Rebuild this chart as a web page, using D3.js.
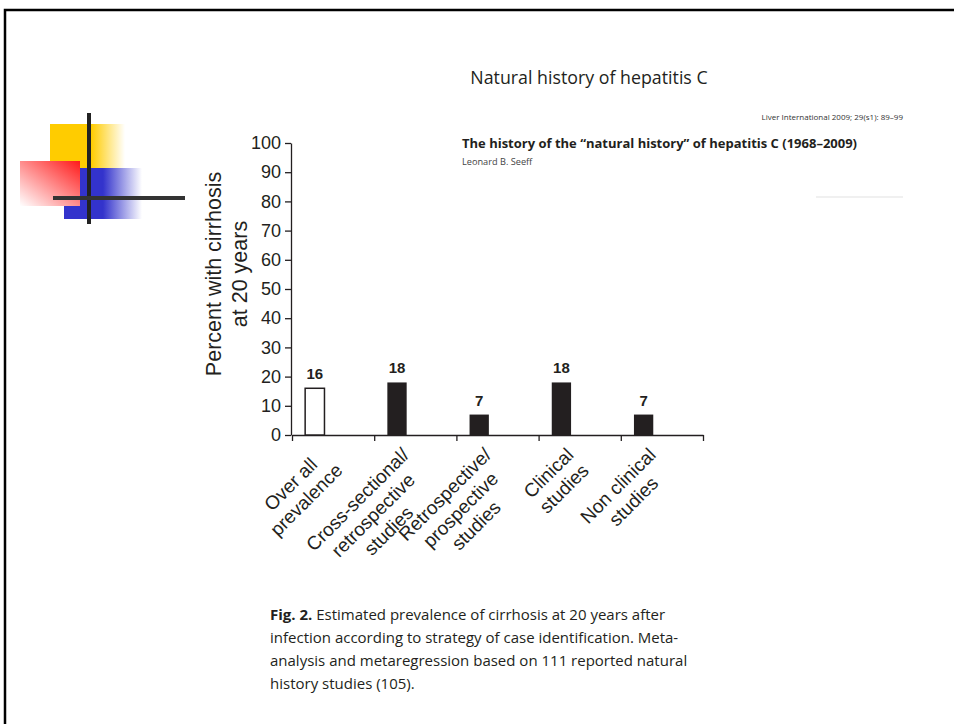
<!DOCTYPE html>
<html>
<head>
<meta charset="utf-8">
<script src="https://cdn.jsdelivr.net/npm/d3@7"></script>
<style>
    html, body { margin: 0; padding: 0; background: #fff; overflow: hidden; }
    svg { display: block; }
    .tick text { font-family: "Liberation Sans", Arial, sans-serif; font-size: 18px; fill: #231f20; }
    .tick line, .domain { stroke: #231f20; stroke-width: 1.3; }
    .cat-label { font-family: "Liberation Sans", Arial, sans-serif; font-size: 19px; fill: #231f20; }
    .value-label { font-family: "Liberation Sans", Arial, sans-serif; font-size: 15px; font-weight: bold; fill: #231f20; }
    .y-title { font-family: "Liberation Sans", Arial, sans-serif; font-size: 21.5px; fill: #231f20; }
    .paper { font-family: "Open Sans", "Noto Sans", sans-serif; fill: #231f20; }
</style>
</head>
<body>
<svg class="chart"></svg>
<script>

// Values (Seeff 2009, Fig. 2).
var categories = ["overall", "crossSectional", "retroProspective", "clinical", "nonClinical"];
var categoryLabels = [
    ["Over all", "prevalence"],
    ["Cross-sectional/", "retrospective", "studies"],
    ["Retrospective/", "prospective", "studies"],
    ["Clinical", "studies"],
    ["Non clinical", "studies"]
];
var cirrhosisPercent = [16, 18, 7, 18, 7];
var yTicks = [0, 10, 20, 30, 40, 50, 60, 70, 80, 90, 100];
var yTitleLines = ["Percent with cirrhosis", "at 20 years"];
var captionLines = [
    ["Fig. 2.", " Estimated prevalence of cirrhosis at 20 years after"],
    ["", "infection according to strategy of case identification. Meta-"],
    ["", "analysis and metaregression based on 111 reported natural"],
    ["", "history studies (105)."]
];

window.onload = function () {

    var width = 954;
    var height = 724;

    var svgElement = d3.select("svg.chart")
        .attr("width", width)
        .attr("height", height);

    var defs = svgElement.append("defs");

    function fadeGradient (id, color, solidUntil) { // Horizontal fade to white, used by the slide decoration.
        var g = defs.append("linearGradient").attr("id", id);
        g.append("stop").attr("offset", 0).attr("stop-color", color);
        g.append("stop").attr("offset", solidUntil).attr("stop-color", color);
        g.append("stop").attr("offset", 1).attr("stop-color", "#fff");
    };
    fadeGradient("yellowFade", "#ffcc00", 0.55);
    fadeGradient("blueFade", "#3333cc", 0.5);

    var redGrad = defs.append("linearGradient") // Red square fades from its top-right corner to white.
        .attr("id", "redFade")
        .attr("x1", 1).attr("y1", 0).attr("x2", 0).attr("y2", 1);
    redGrad.append("stop").attr("offset", 0).attr("stop-color", "#ff1a1a");
    redGrad.append("stop").attr("offset", 1).attr("stop-color", "#fff");

    // Slide frame (runs off the right and bottom of the window).
    svgElement.append("rect")
        .attr("x", 5).attr("y", 10)
        .attr("width", 1000).attr("height", 800)
        .attr("fill", "none")
        .attr("stroke", "#000")
        .attr("stroke-width", 2.5);

    // Slide decoration in the top-left corner.
    var deco = svgElement.append("g");
    deco.append("rect").attr("x", 50).attr("y", 124).attr("width", 75).attr("height", 45).attr("fill", "url(#yellowFade)");
    deco.append("rect").attr("x", 64).attr("y", 168).attr("width", 78).attr("height", 51).attr("fill", "url(#blueFade)");
    deco.append("rect").attr("x", 20).attr("y", 161).attr("width", 60).attr("height", 45).attr("fill", "url(#redFade)");
    deco.append("rect").attr("x", 87).attr("y", 113).attr("width", 4).attr("height", 111).attr("fill", "#222");
    deco.append("rect").attr("x", 53).attr("y", 196).attr("width", 132).attr("height", 4).attr("fill", "#333");

    // Slide title and the paper heading pasted beside the chart.
    svgElement.append("text")
        .attr("class", "paper")
        .attr("x", 589).attr("y", 84)
        .attr("text-anchor", "middle")
        .style("font-size", "17.8px")
        .text("Natural history of hepatitis C");

    svgElement.append("text")
        .attr("class", "paper")
        .attr("x", 903).attr("y", 120)
        .attr("text-anchor", "end")
        .style("font-size", "8px")
        .style("fill", "#333")
        .text("Liver International 2009; 29(s1): 89–99");

    svgElement.append("text")
        .attr("class", "paper")
        .attr("x", 462).attr("y", 148)
        .style("font-size", "13px")
        .style("font-weight", "bold")
        .text("The history of the “natural history” of hepatitis C (1968–2009)");

    svgElement.append("text")
        .attr("class", "paper")
        .attr("x", 462).attr("y", 165)
        .style("font-size", "9.2px")
        .style("fill", "#444")
        .text("Leonard B. Seeff");

    svgElement.append("rect")
        .attr("x", 816).attr("y", 196).attr("width", 87).attr("height", 2)
        .attr("fill", "#f0f0f0");

    // Scales.
    var x = d3.scaleBand()
        .domain(categories)
        .range([292, 703]);

    var boundary = d3.scaleLinear() // Category boundaries for the x axis ticks.
        .domain([0, categories.length])
        .range(x.range());

    var y = d3.scaleLinear()
        .domain([0, 100])
        .range([435, 143]);

    var chart = svgElement.append("g");

    chart.append("g")
        .attr("transform", "translate(0, 435)")
        .call(d3.axisBottom(boundary)
            .tickValues(d3.range(categories.length + 1))
            .tickFormat("")
            .tickSize(6)
            .tickSizeOuter(0));

    chart.append("g")
        .attr("transform", "translate(291, 0)")
        .call(d3.axisLeft(y)
            .tickValues(yTicks)
            .tickSize(6)
            .tickSizeOuter(0)
            .tickPadding(4));

    // Bars sit in the left part of each category slot.
    var barOffset = x.bandwidth() * 0.16;
    var barWidth = x.bandwidth() * 0.235;

    chart.selectAll("rect.bar")
        .data(cirrhosisPercent)
        .enter()
        .append("rect")
            .attr("class", "bar")
            .attr("x", function (d, i) { return x(categories[i]) + barOffset; })
            .attr("y", function (d) { return y(d); })
            .attr("width", barWidth)
            .attr("height", function (d) { return y(0) - y(d); })
            .attr("fill", function (d, i) { return i === 0 ? "#fff" : "#231f20"; }) // Overall prevalence is drawn hollow.
            .attr("stroke", "#231f20")
            .attr("stroke-width", function (d, i) { return i === 0 ? 1.5 : 0; });

    chart.selectAll("text.value-label")
        .data(cirrhosisPercent)
        .enter()
        .append("text")
            .attr("class", "value-label")
            .attr("x", function (d, i) { return x(categories[i]) + barOffset + barWidth / 2; })
            .attr("y", function (d) { return y(d) - 9; })
            .attr("text-anchor", "middle")
            .text(function (d) { return d; });

    // Rotated category labels, lines centred, top-right corner near the slot centre.
    var lineHeight = 22;
    categoryLabels.forEach(function (lines, i) {
        var g = chart.append("g")
            .attr("transform", "translate(" + (x(categories[i]) + x.bandwidth() / 2 - 5) + ", " + (y(0) + 21) + ") rotate(-45)");
        var texts = g.selectAll("text")
            .data(lines)
            .enter()
            .append("text")
                .attr("class", "cat-label")
                .attr("text-anchor", "middle")
                .attr("y", function (d, j) { return j * lineHeight; })
                .text(function (d) { return d; });
        var longest = d3.max(texts.nodes(), function (n) { return n.getComputedTextLength(); });
        texts.attr("x", -longest / 2);
    });

    // Y axis title.
    var yTitle = chart.append("g")
        .attr("transform", "translate(227, 274) rotate(-90)");
    yTitle.selectAll("text")
        .data(yTitleLines)
        .enter()
        .append("text")
            .attr("class", "y-title")
            .attr("text-anchor", "middle")
            .attr("y", function (d, j) { return (j - 0.5) * 26 + 7; })
            .text(function (d) { return d; });

    // Figure caption.
    captionLines.forEach(function (parts, i) {
        var t = svgElement.append("text")
            .attr("class", "paper")
            .attr("x", 270)
            .attr("y", 620 + i * 23)
            .style("font-size", "15px");
        t.append("tspan").style("font-weight", "bold").text(parts[0]);
        t.append("tspan").text(parts[1]);
    });
};

</script>
</body>
</html>
